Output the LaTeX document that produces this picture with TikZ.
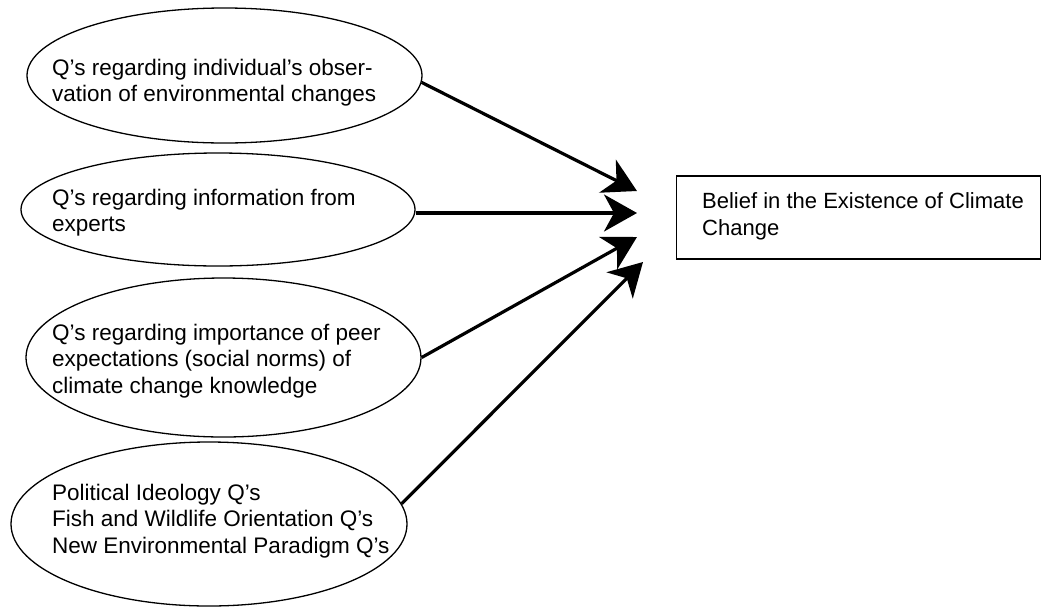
\documentclass[tikz,border=0pt]{standalone}
\usepackage{fontspec}
\setmainfont{Liberation Sans}
\usetikzlibrary{shapes.geometric,arrows.meta}

\begin{document}
\begin{tikzpicture}[x=1pt,y=-1pt,
  oval/.style={draw,ellipse,line width=1.3pt,inner sep=0pt},
  box/.style={draw,rectangle,line width=1.3pt,inner sep=0pt},
  caption/.style={anchor=north west,inner sep=0pt,align=left,
    font=\fontsize{22.5}{26.5}\selectfont},
  link/.style={line width=3.2pt,-{Stealth[length=33pt,width=37pt,inset=10pt]}}]
\useasboundingbox (0,0) rectangle (1042,606);

% predictor groups
\node[oval,minimum width=395pt,minimum height=135pt] (e1) at (224.5,75.5) {};
\node[oval,minimum width=394pt,minimum height=113pt] (e2) at (218,209.5) {};
\node[oval,minimum width=395pt,minimum height=159pt] (e3) at (223.5,357.5) {};
\node[oval,minimum width=396pt,minimum height=164pt] (e4) at (209,524) {};

\node[caption] (q1) at (52,58.5) {Q’s regarding individual’s obser-\\vation of environmental changes};
\node[caption] (q2) at (52,188.5) {Q’s regarding information from\\experts};
\node[caption] (q3) at (52,323.5) {Q’s regarding importance of peer\\expectations (social norms) of\\climate change knowledge};
\node[caption] (q4) at (52,483.5) {Political Ideology Q’s\\Fish and Wildlife Orientation Q’s\\New Environmental Paradigm Q’s};

% outcome
\node[box,minimum width=364pt,minimum height=83pt] (b) at (858.5,217.5) {};
\node[caption,font=\fontsize{22}{26.5}\selectfont] (bt) at (702,192.5) {Belief in the Existence of Climate\\Change};

% arrow tips
\coordinate (t1) at (637,191);
\coordinate (t2) at (637,213);
\coordinate (t3) at (637,237);
\coordinate (t4) at (643,262);

\draw[link] (e1.-2) -- (t1);
\draw[link] (t2 -| e2.east) -- (t2);
\draw[link] (e3.east) -- (t3);
\draw[link] (e4.6) -- (t4);
\end{tikzpicture}
\end{document}
